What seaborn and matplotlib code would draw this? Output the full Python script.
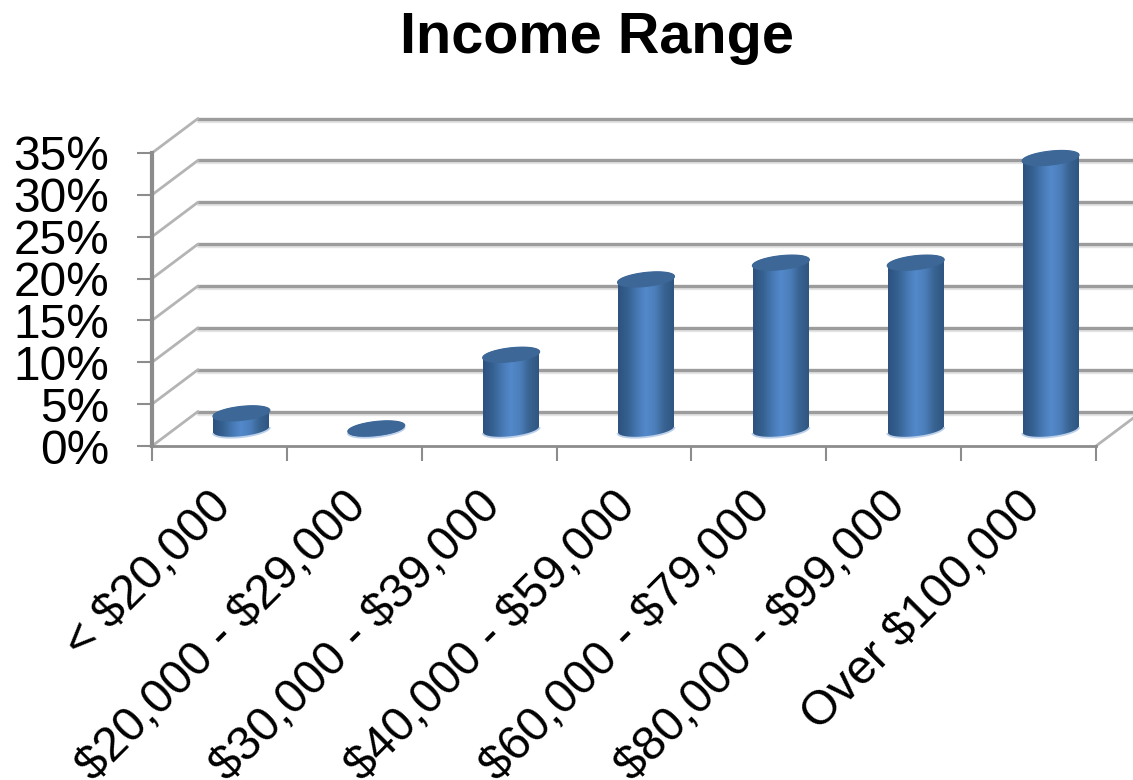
import numpy as np
import matplotlib
matplotlib.use("Agg")
import matplotlib.pyplot as plt
import pandas as pd
import seaborn as sns
from matplotlib.patches import Polygon
from matplotlib.transforms import ScaledTranslation

categories = ["< \\$20,000", "\\$20,000 - \\$29,000", "\\$30,000 - \\$39,000", "\\$40,000 - \\$59,000",
              "\\$60,000 - \\$79,000", "\\$80,000 - \\$99,000", "Over \\$100,000"]
shares = [2, 0.2, 9, 18, 20, 20, 32.5]
y_ticks = [0, 5, 10, 15, 20, 25, 30, 35]
title = "Income Range"

W, H = 1133, 780
sns.set_theme(style="white")
plt.rcParams["font.family"] = ["Liberation Sans", "DejaVu Sans"]

fig = plt.figure(figsize=(W / 100, H / 100), dpi=100)
L, R, B, T = 152, 1096, 446, 153
ax = fig.add_axes([L / W, 1 - B / H, (R - L) / W, (B - T) / H])
ax.set_xlim(-0.5, 6.5)
ax.set_ylim(0, 35)
sx = (R - L) / 7      # px per category
sy = (B - T) / 35     # px per percent
GRID = "#9c9c9c"
AXC = "#8c8c8c"

# wall / floor
dx_back, dy_back = 46 / sx, 34.5 / sy
for v in y_ticks:
    ax.plot([-0.5 + dx_back, 6.5 + dx_back], [v + dy_back] * 2, color="#e4e4e4", lw=2.4,
            clip_on=False, zorder=1, transform=ax.transData + ScaledTranslation(0, -2 / 100, fig.dpi_scale_trans))
    ax.plot([-0.5 + dx_back, 6.5 + dx_back], [v + dy_back] * 2, color=GRID, lw=2.4, clip_on=False, zorder=1.1)
    ax.plot([-0.5, -0.5 + dx_back], [v, v + dy_back], color="#b4b4b4", lw=2, clip_on=False, zorder=1.1)
ax.plot([6.5, 6.5 + dx_back], [0, dy_back], color="#b4b4b4", lw=2, clip_on=False, zorder=1.1)

# bars
df = pd.DataFrame({"cat": categories, "share": shares})
base = 1.9
sns.barplot(data=df, x="cat", y="share", ax=ax, width=56 / sx, color="#4f81bd",
            bottom=base, saturation=1, zorder=3, linewidth=0)
ax.set_xlim(-0.5, 6.5)
ax.set_ylim(0, 35)

A, BB, TILT = 28.5, 7.0, 3.0

def arc(cx, cy, t):
    return np.c_[cx + A * np.cos(t) / sx, cy + (BB * np.sin(t) + TILT * np.cos(t)) / sy]

cmap = matplotlib.colors.LinearSegmentedColormap.from_list(
    "cyl", ["#2d527f", "#34608f", "#4677b2", "#5389cb", "#4b7eb9", "#386391", "#2f5682"])
shift = 22 / sx
for p in list(ax.patches):
    x0 = p.get_x() + shift
    w = p.get_width()
    y0 = p.get_y()
    top = y0 + p.get_height()
    cx = x0 + w / 2
    p.set_x(x0)
    p.set_alpha(0)
    et = arc(cx, top, np.linspace(0, 2 * np.pi, 80))
    lower = arc(cx, y0, np.linspace(np.pi, 2 * np.pi, 40))
    upper = arc(cx, top, np.linspace(0, np.pi, 40))
    body = Polygon(np.r_[lower, upper], closed=True, transform=ax.transData, fc="none", ec="none")
    ax.add_patch(body)
    ax.add_patch(Polygon(lower, closed=False, fill=False, ec="#bcd0ea", lw=1.3, zorder=3.6))
    im = ax.imshow(np.linspace(0, 1, 200)[None, :], cmap=cmap, aspect="auto", zorder=3.5,
                   extent=[x0, x0 + w, y0 - 2, top + 2], interpolation="bilinear")
    im.set_clip_path(body)
    ax.add_patch(Polygon(et, closed=True, fc="#3d6797", ec="#3d6797", lw=0.8, zorder=4, clip_on=False))

ax.set_xlim(-0.5, 6.5)
ax.set_ylim(0, 35)
ax.set_xlabel("")
ax.set_ylabel("")

# axes
for s in ["top", "right"]:
    ax.spines[s].set_visible(False)
for s in ["left", "bottom"]:
    ax.spines[s].set_visible(True)
    ax.spines[s].set_color(AXC)
ax.spines["left"].set_linewidth(3)
ax.spines["bottom"].set_linewidth(2)
ax.set_zorder(2)

ax.set_yticks(y_ticks, [f"{v}%" for v in y_ticks])
ax.tick_params(axis="y", length=10.8, width=1.5, color=AXC, labelsize=34.5, pad=20, left=True, labelcolor="black")
centers = np.arange(len(categories))
ax.set_xticks(np.arange(-0.5, 7), [""] * 8)
ax.set_xticks(centers, categories, minor=True)
ax.tick_params(axis="x", which="major", length=10.8, width=1.5, color=AXC, bottom=True)
ax.tick_params(axis="x", which="minor", length=0, labelsize=34.5, pad=27, labelcolor="black")
off = ScaledTranslation(-11 / 100, 0, fig.dpi_scale_trans)
for lab in ax.get_xticklabels(minor=True):
    lab.set_rotation(45)
    lab.set_ha("right")
    lab.set_va("top")
    lab.set_rotation_mode("anchor")
    lab.set_transform(lab.get_transform() + off)

fig.text(597 / W, 1 - 38 / H, title, ha="center", va="center", fontsize=41.5, fontweight="bold", color="black")
fig.savefig("out.png", dpi=100)
